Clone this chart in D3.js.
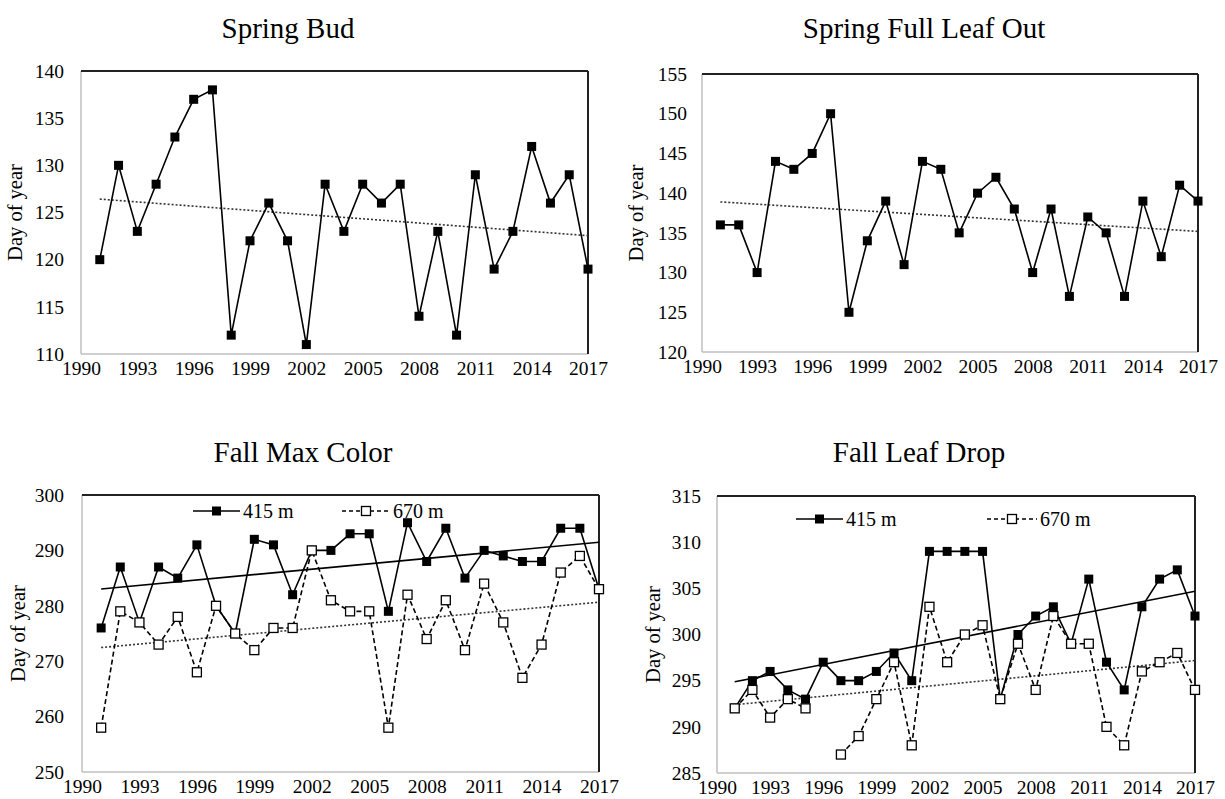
<!DOCTYPE html>
<html>
<head>
<meta charset="utf-8">
<script src="https://cdn.jsdelivr.net/npm/d3@7"></script>
<style>
  body { margin: 0; background: #fff; }
  svg text { font-family: "Liberation Serif", "Times New Roman", "DejaVu Serif", serif; }
</style>
</head>
<body>
<svg id="chart" width="1225" height="799"></svg>
<script>
// Phenology day-of-year, 1991-2017
const years = [1991,1992,1993,1994,1995,1996,1997,1998,1999,2000,2001,2002,2003,2004,
               2005,2006,2007,2008,2009,2010,2011,2012,2013,2014,2015,2016,2017];
const xTicks = [1990,1993,1996,1999,2002,2005,2008,2011,2014,2017];

const springBud     = [120,130,123,128,133,137,138,112,122,126,122,111,128,123,128,126,128,114,123,112,129,119,123,132,126,129,119];
const springLeafOut = [136,136,130,144,143,145,150,125,134,139,131,144,143,135,140,142,138,130,138,127,137,135,127,139,132,141,139];
const fallColor415  = [276,287,277,287,285,291,280,275,292,291,282,290,290,293,293,279,295,288,294,285,290,289,288,288,294,294,283];
const fallColor670  = [258,279,277,273,278,268,280,275,272,276,276,290,281,279,279,258,282,274,281,272,284,277,267,273,286,289,283];
const fallDrop415   = [292,295,296,294,293,297,295,295,296,298,295,309,309,309,309,293,300,302,303,299,306,297,294,303,306,307,302];
const fallDrop670   = [292,294,291,293,292,null,287,289,293,297,288,303,297,300,301,293,299,294,302,299,299,290,288,296,297,298,294];

const seriesNames = ["415 m", "670 m"];

const svg = d3.select("#chart");

// least squares fit over the defined points
function trend(vals) {
    var pts = years.map(function(y, i) { return [y, vals[i]]; }).filter(function(p) { return p[1] != null; });
    var mx = d3.mean(pts, function(p) { return p[0]; });
    var my = d3.mean(pts, function(p) { return p[1]; });
    var sxy = d3.sum(pts, function(p) { return (p[0] - mx) * (p[1] - my); });
    var sxx = d3.sum(pts, function(p) { return (p[0] - mx) * (p[0] - mx); });
    var b = sxy / sxx;
    return [years[0], years[years.length - 1]].map(function(y) { return [y, my + b * (y - mx)]; });
}

function drawPanel(cfg) {
    var g = svg.append("g");

    var x = d3.scaleLinear().domain([1990, 2017]).range([cfg.left, cfg.right]);
    var y = d3.scaleLinear().domain(cfg.yDomain).range([cfg.bottom, cfg.top]);

    // title
    g.append("text")
        .attr("x", cfg.titleX)
        .attr("y", cfg.titleY)
        .attr("text-anchor", "middle")
        .style("font-size", "29px")
        .text(cfg.title);

    // y axis labels
    var yAxis = g.append("g")
        .attr("transform", "translate(" + cfg.left + ",0)")
        .call(d3.axisLeft(y).tickValues(d3.range(cfg.yDomain[0], cfg.yDomain[1] + 0.1, cfg.yStep)).tickSize(0).tickPadding(cfg.yPad));
    yAxis.attr("font-family", null).attr("font-size", null);
    yAxis.select(".domain").remove();
    yAxis.selectAll("text").style("font-size", "19.5px").style("fill", "#000");

    // x axis labels
    var xAxis = g.append("g")
        .attr("transform", "translate(0," + cfg.bottom + ")")
        .call(d3.axisBottom(x).tickValues(xTicks).tickFormat(d3.format("d")).tickSize(0).tickPadding(7));
    xAxis.attr("font-family", null).attr("font-size", null);
    xAxis.select(".domain").remove();
    xAxis.selectAll("text").style("font-size", "19.5px").style("fill", "#000");

    // frame: grey left/bottom, dark top/right
    g.append("line").attr("x1", cfg.left).attr("x2", cfg.left).attr("y1", cfg.top).attr("y2", cfg.bottom)
        .style("stroke", "#bfbfbf").style("stroke-width", 1.5);
    g.append("line").attr("x1", cfg.left).attr("x2", cfg.right).attr("y1", cfg.bottom).attr("y2", cfg.bottom)
        .style("stroke", "#bfbfbf").style("stroke-width", 1.5);
    g.append("line").attr("x1", cfg.left).attr("x2", cfg.right).attr("y1", cfg.top).attr("y2", cfg.top)
        .style("stroke", "#222").style("stroke-width", 2);
    g.append("line").attr("x1", cfg.right).attr("x2", cfg.right).attr("y1", cfg.top).attr("y2", cfg.bottom)
        .style("stroke", "#222").style("stroke-width", 2);

    // y axis title
    g.append("text")
        .attr("transform", "translate(" + cfg.labelX + "," + ((cfg.top + cfg.bottom) / 2) + ") rotate(-90)")
        .attr("text-anchor", "middle")
        .attr("dy", "0.35em")
        .style("font-size", "20.5px")
        .text("Day of year");

    // trend lines (under the data)
    cfg.series.forEach(function(s) {
        g.append("path")
            .datum(trend(s.values))
            .attr("d", d3.line().x(function(d) { return x(d[0]); }).y(function(d) { return y(d[1]); }))
            .style("fill", "none")
            .style("stroke", s.trendSolid ? "#000" : "#333")
            .style("stroke-width", 1.6)
            .style("stroke-dasharray", s.trendSolid ? null : "2,2");
    });

    // data lines and markers
    var line = d3.line()
        .defined(function(d) { return d != null; })
        .x(function(d, i) { return x(years[i]); })
        .y(function(d) { return y(d); });

    cfg.series.forEach(function(s) {
        g.append("path")
            .datum(s.values)
            .attr("d", line)
            .style("fill", "none")
            .style("stroke", "#000")
            .style("stroke-width", 1.6)
            .style("stroke-dasharray", s.open ? "5,3" : null);

        g.selectAll(null)
            .data(years.map(function(yr, i) { return {year: yr, v: s.values[i]}; }).filter(function(d) { return d.v != null; }))
            .enter()
            .append("rect")
            .attr("x", function(d) { return x(d.year) - 4.5; })
            .attr("y", function(d) { return y(d.v) - 4.5; })
            .attr("width", 9)
            .attr("height", 9)
            .style("fill", s.open ? "#fff" : "#000")
            .style("stroke", "#000")
            .style("stroke-width", s.open ? 1.3 : 0);
    });

    // legend
    if (cfg.legend) {
        cfg.legend.forEach(function(l, i) {
            var s = cfg.series[i];
            g.append("line")
                .attr("x1", l.x1).attr("x2", l.x2).attr("y1", l.y).attr("y2", l.y)
                .style("stroke", "#000").style("stroke-width", 1.6)
                .style("stroke-dasharray", s.open ? "4,3" : null);
            g.append("rect")
                .attr("x", (l.x1 + l.x2) / 2 - 4.5).attr("y", l.y - 4.5)
                .attr("width", 9).attr("height", 9)
                .style("fill", s.open ? "#fff" : "#000")
                .style("stroke", "#000")
                .style("stroke-width", s.open ? 1.3 : 0);
            g.append("text")
                .attr("x", l.x2 + 3).attr("y", l.y)
                .attr("dy", "0.35em")
                .style("font-size", "20px")
                .text(seriesNames[i]);
        });
    }
}

drawPanel({
    title: "Spring Bud", titleX: 288, titleY: 38,
    left: 81, right: 588, top: 71, bottom: 354, labelX: 15, yPad: 17,
    yDomain: [110, 140], yStep: 5,
    series: [{values: springBud, open: false}]
});

drawPanel({
    title: "Spring Full Leaf Out", titleX: 924, titleY: 38,
    left: 702, right: 1198, top: 74, bottom: 352, labelX: 636, yPad: 15,
    yDomain: [120, 155], yStep: 5,
    series: [{values: springLeafOut, open: false}]
});

drawPanel({
    title: "Fall Max Color", titleX: 303, titleY: 462,
    left: 82, right: 599, top: 495, bottom: 772, labelX: 18, yPad: 18,
    yDomain: [250, 300], yStep: 10,
    series: [{values: fallColor415, open: false, trendSolid: true},
             {values: fallColor670, open: true}],
    legend: [{x1: 193, x2: 240, y: 511}, {x1: 342, x2: 390, y: 511}]
});

drawPanel({
    title: "Fall Leaf Drop", titleX: 919, titleY: 462,
    left: 717, right: 1195, top: 496, bottom: 773, labelX: 653, yPad: 16,
    yDomain: [285, 315], yStep: 5,
    series: [{values: fallDrop415, open: false, trendSolid: true},
             {values: fallDrop670, open: true}],
    legend: [{x1: 796, x2: 843, y: 519}, {x1: 987, x2: 1037, y: 519}]
});
</script>
</body>
</html>
